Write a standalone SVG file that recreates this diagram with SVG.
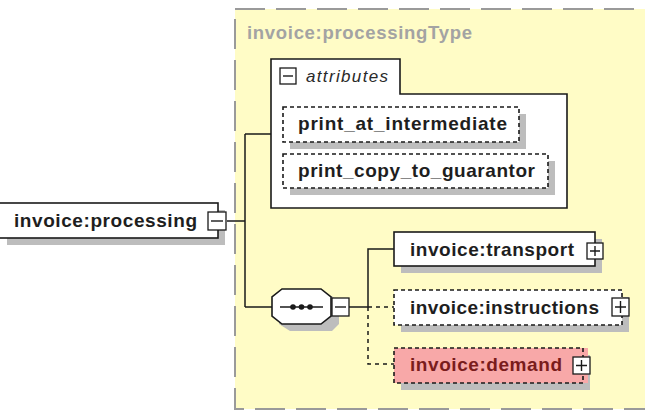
<svg xmlns="http://www.w3.org/2000/svg" width="645" height="411" viewBox="0 0 645 411">
<style>
.bg{fill:#fffcc6;stroke:#9a9a9a;stroke-width:2;stroke-dasharray:30 11}
.node{fill:#ffffff;stroke:#1a1a1a;stroke-width:1.6}
.opt{fill:#ffffff;stroke:#1a1a1a;stroke-width:1.6;stroke-dasharray:4 3}
.pink{fill:#f8a8a8}
.shadow{fill:#bdbdbd}
.t{font-family:"Liberation Sans",Arial,sans-serif;font-weight:bold;font-size:19px;fill:#1e1e1e}
.type{font-family:"Liberation Sans",Arial,sans-serif;font-weight:bold;font-size:18.5px;fill:#a3a3a3}
.it{font-family:"Liberation Sans",Arial,sans-serif;font-style:italic;font-size:17px;fill:#2a2a2a}
.red{fill:#7a1c1c}
.btn{fill:#ffffff;stroke:#1a1a1a;stroke-width:1.3}
.sym{stroke:#1a1a1a;stroke-width:1.4;fill:none}
.c{stroke:#1a1a1a;stroke-width:1.5;fill:none}
.cd{stroke:#1a1a1a;stroke-width:1.5;fill:none;stroke-dasharray:4 4}
</style>

<g id="processingType">
  <rect class="bg" x="235" y="9" width="440" height="400"/>
  <text class="type" x="247" y="39" textLength="225" lengthAdjust="spacing">invoice:processingType</text>
</g>

<g id="connectors">
  <path class="c" d="M227 221H245M245 134V307M245 134H271M245 307H272"/>
  <path class="c" d="M349 307H368M368 307V249H394"/>
  <path class="cd" d="M368 307H394M368 307V364H394"/>
</g>

<g id="attributes">
  <path class="node" d="M271 59H400V94H567V208H271Z"/>
  <rect class="btn" x="280" y="68" width="16" height="16"/>
  <path class="sym" d="M283 76H293"/>
  <text class="it" x="306" y="82" textLength="82" lengthAdjust="spacing">attributes</text>
</g>

<g id="print_at_intermediate">
  <rect class="shadow" x="290" y="114" width="236" height="35"/>
  <rect class="opt" x="283" y="107" width="236" height="35"/>
  <text class="t" x="298" y="130" textLength="209" lengthAdjust="spacing">print_at_intermediate</text>
</g>

<g id="print_copy_to_guarantor">
  <rect class="shadow" x="290" y="161" width="265" height="34"/>
  <rect class="opt" x="283" y="154" width="265" height="34"/>
  <text class="t" x="298" y="177" textLength="237" lengthAdjust="spacing">print_copy_to_guarantor</text>
</g>

<g id="processing">
  <rect class="shadow" x="7" y="210" width="218" height="35"/>
  <rect class="node" x="-2" y="203" width="220" height="35"/>
  <text class="t" x="14" y="227" textLength="183" lengthAdjust="spacing">invoice:processing</text>
  <rect class="btn" x="208" y="212" width="18" height="18"/>
  <path class="sym" d="M211 221H223"/>
</g>

<g id="sequence">
  <path class="shadow" d="M290 296H332L339 303V324L332 331H290L279 324V303Z"/>
  <path class="node" d="M282 289H321L331 297V316L321 324H282L272 316V297Z"/>
  <path class="sym" d="M280 307H323"/>
  <circle cx="293" cy="307" r="2.8" fill="#1a1a1a"/>
  <circle cx="301.5" cy="307" r="2.8" fill="#1a1a1a"/>
  <circle cx="310" cy="307" r="2.8" fill="#1a1a1a"/>
  <rect class="btn" x="332" y="298" width="17" height="18"/>
  <path class="sym" d="M335 307H346"/>
</g>

<g id="transport">
  <rect class="shadow" x="401" y="239" width="201" height="34"/>
  <rect class="node" x="394" y="232" width="201" height="34"/>
  <text class="t" x="410" y="256" textLength="164" lengthAdjust="spacing">invoice:transport</text>
  <rect class="btn" x="587" y="243" width="16" height="16"/>
  <path class="sym" d="M590 251H600M595 246V256"/>
</g>

<g id="instructions">
  <rect class="shadow" x="401" y="297" width="228" height="35"/>
  <rect class="opt" x="394" y="290" width="228" height="35"/>
  <text class="t" x="410" y="314" textLength="189" lengthAdjust="spacing">invoice:instructions</text>
  <rect class="btn" x="612" y="298" width="17" height="18"/>
  <path class="sym" d="M615 307H626M620.5 301V313"/>
</g>

<g id="demand">
  <rect class="shadow" x="401" y="355" width="189" height="35"/>
  <rect class="pink" x="394" y="348" width="194" height="35"/>
  <rect class="opt pink" x="394" y="348" width="189" height="35"/>
  <text class="t red" x="410" y="371" textLength="152" lengthAdjust="spacing">invoice:demand</text>
  <rect class="btn pink" x="573" y="357" width="17" height="17"/>
  <path class="sym" d="M576 365.5H587M581.5 360V371" stroke="#5a1010"/>
</g>
</svg>
